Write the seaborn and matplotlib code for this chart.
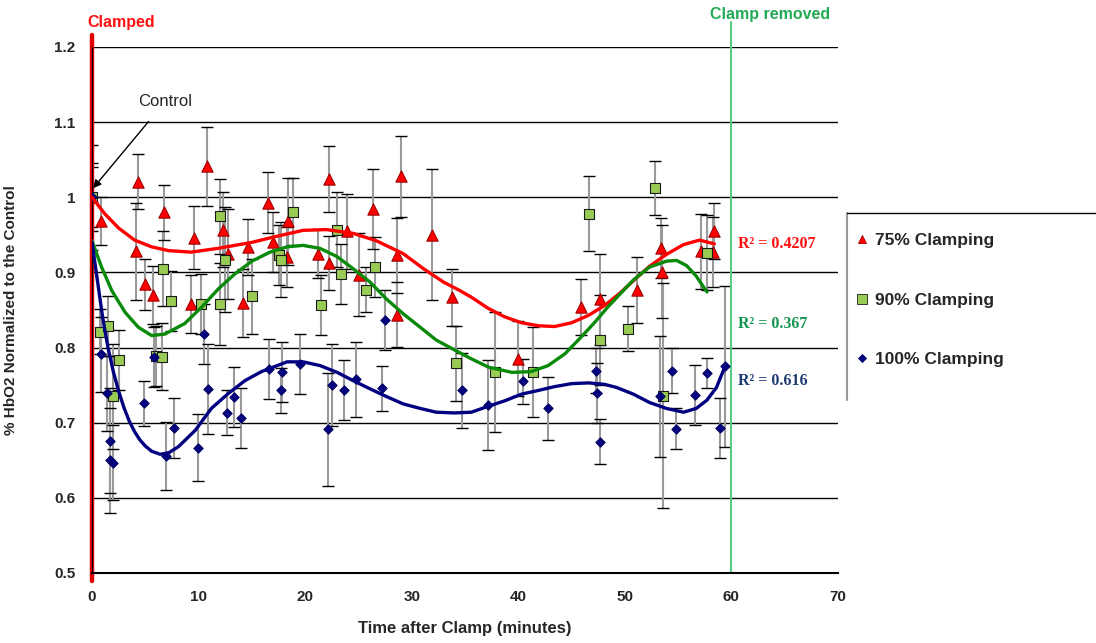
import matplotlib
matplotlib.use("Agg")
import matplotlib.pyplot as plt
from matplotlib.lines import Line2D
import numpy as np
import pandas as pd
import seaborn as sns

# ---------------- data ----------------
series_names = ["75% Clamping", "90% Clamping", "100% Clamping"]

red_x = [0.0, 0.8, 4.3, 4.1, 5.0, 5.7, 6.8, 9.3, 9.6, 10.8, 12.3, 12.8, 14.2, 14.6, 16.5, 17.0,
         18.4, 18.3, 21.2, 22.2, 22.2, 23.9, 25.1, 26.4, 28.6, 28.6, 29.0, 31.9, 33.8, 40.0,
         45.9, 47.7, 51.1, 53.4, 53.5, 57.1, 58.4, 58.3]
red_y = [1.000, 0.969, 1.021, 0.928, 0.884, 0.870, 0.980, 0.858, 0.946, 1.041, 0.957, 0.924, 0.859,
         0.934, 0.993, 0.940, 0.968, 0.920, 0.925, 1.024, 0.912, 0.955, 0.897, 0.984, 0.844, 0.923,
         1.028, 0.950, 0.867, 0.785, 0.854, 0.864, 0.877, 0.932, 0.901, 0.928, 0.955, 0.927]
red_e = [0.040, 0.032, 0.036, 0.065, 0.034, 0.039, 0.037, 0.039, 0.042, 0.052, 0.050, 0.060, 0.045,
         0.037, 0.040, 0.040, 0.058, 0.040, 0.033, 0.044, 0.036, 0.050, 0.055, 0.053, 0.043, 0.050,
         0.054, 0.087, 0.038, 0.050, 0.037, 0.060, 0.044, 0.040, 0.062, 0.050, 0.037, 0.047]

green_x = [0.0, 0.72, 1.5, 2.0, 2.56, 5.97, 6.6, 6.7, 7.4, 10.2, 12.0, 12.0, 12.5, 15.0, 17.5, 17.7,
           18.9, 21.5, 23.0, 23.4, 25.7, 26.6, 34.2, 37.8, 41.4, 46.6, 47.7, 50.3, 52.8, 53.6, 57.7]
green_y = [1.000, 0.821, 0.829, 0.735, 0.783, 0.789, 0.788, 0.905, 0.862, 0.858, 0.858, 0.975, 0.917,
           0.868, 0.923, 0.917, 0.981, 0.857, 0.957, 0.898, 0.877, 0.907, 0.779, 0.767, 0.767, 0.978,
           0.810, 0.825, 1.012, 0.736, 0.926]
green_e = [0.045, 0.030, 0.040, 0.070, 0.040, 0.040, 0.045, 0.050, 0.040, 0.040, 0.055, 0.050, 0.070,
           0.050, 0.040, 0.050, 0.045, 0.040, 0.050, 0.040, 0.030, 0.040, 0.050, 0.080, 0.060, 0.050,
           0.060, 0.030, 0.036, 0.150, 0.050]

blue_x = [0.0, 0.8, 1.4, 1.7, 1.7, 2.0, 4.9, 5.8, 6.9, 7.7, 9.9, 10.5, 10.9, 12.7, 13.3, 14.0, 16.6,
          17.85, 17.7, 19.5, 22.1, 22.5, 23.6, 24.8, 27.2, 27.5, 34.7, 37.2, 40.4, 42.8, 47.3, 47.4,
          47.7, 53.3, 54.4, 54.8, 56.6, 57.7, 58.9, 59.4]
blue_y = [1.000, 0.791, 0.739, 0.676, 0.650, 0.647, 0.726, 0.787, 0.656, 0.693, 0.667, 0.818, 0.745,
          0.713, 0.734, 0.706, 0.771, 0.767, 0.743, 0.778, 0.691, 0.750, 0.744, 0.758, 0.746, 0.837,
          0.743, 0.724, 0.755, 0.719, 0.769, 0.739, 0.675, 0.735, 0.769, 0.692, 0.737, 0.766, 0.693,
          0.775]
blue_e = [0.070, 0.050, 0.050, 0.070, 0.070, 0.050, 0.030, 0.040, 0.045, 0.040, 0.045, 0.040, 0.060,
          0.030, 0.040, 0.040, 0.040, 0.040, 0.030, 0.040, 0.075, 0.055, 0.040, 0.050, 0.030, 0.040,
          0.050, 0.060, 0.030, 0.042, 0.030, 0.040, 0.030, 0.080, 0.030, 0.027, 0.040, 0.020, 0.040,
          0.107]

# trend lines
red_tx = [0.0, 1.2, 2.5, 4.0, 5.6, 7.2, 9.3, 11.8, 13.4, 15.0, 17.0, 19.8, 22.0, 24.5, 26.7, 29.2,
          31.1, 33.0, 34.5, 35.6, 37.2, 38.7, 40.3, 41.9, 43.4, 45.0, 46.6, 48.1, 49.5, 50.8, 52.3,
          53.9, 55.5, 57.0, 58.4]
red_ty = [1.000, 0.978, 0.959, 0.943, 0.934, 0.929, 0.927, 0.932, 0.936, 0.940, 0.947, 0.956, 0.957,
          0.952, 0.942, 0.925, 0.905, 0.887, 0.876, 0.867, 0.852, 0.841, 0.833, 0.829, 0.828, 0.833,
          0.843, 0.856, 0.872, 0.889, 0.908, 0.924, 0.937, 0.943, 0.938]

green_tx = [0.0, 0.9, 1.85, 3.1, 4.35, 5.6, 6.85, 8.7, 10.3, 11.85, 13.4, 15.0, 16.7, 18.3, 19.8,
            21.4, 23.0, 24.5, 26.1, 27.6, 29.2, 30.8, 32.3, 34.0, 35.6, 37.2, 39.4, 41.2, 42.8, 44.4,
            45.9, 47.2, 48.4, 49.6, 50.8, 52.3, 53.9, 54.85, 55.8, 56.7, 57.7]
green_ty = [0.942, 0.907, 0.876, 0.847, 0.827, 0.816, 0.818, 0.832, 0.854, 0.878, 0.898, 0.915,
            0.927, 0.934, 0.936, 0.932, 0.921, 0.905, 0.887, 0.865, 0.845, 0.827, 0.810, 0.797,
            0.785, 0.774, 0.767, 0.768, 0.776, 0.792, 0.814, 0.834, 0.854, 0.872, 0.890, 0.907,
            0.915, 0.916, 0.909, 0.895, 0.874]

blue_tx = [0.0, 0.5, 1.0, 1.5, 2.0, 2.5, 3.0, 3.5, 4.0, 4.5, 5.0, 5.6, 6.4, 7.2, 8.1, 9.7, 11.2,
           12.8, 14.35, 15.9, 17.2, 18.3, 19.8, 21.4, 23.0, 24.5, 26.1, 27.6, 29.2, 30.8, 32.3,
           34.0, 35.6, 37.2, 38.7, 40.3, 41.9, 43.4, 45.0, 46.6, 48.1, 49.2, 50.8, 52.3, 53.9,
           55.5, 56.7, 57.7, 58.6, 59.4]
blue_ty = [0.940, 0.890, 0.840, 0.800, 0.768, 0.742, 0.720, 0.702, 0.688, 0.677, 0.669, 0.662,
           0.658, 0.660, 0.668, 0.690, 0.719, 0.739, 0.756, 0.768, 0.775, 0.781, 0.781, 0.776,
           0.767, 0.756, 0.745, 0.735, 0.725, 0.719, 0.714, 0.713, 0.714, 0.722, 0.729, 0.738,
           0.743, 0.748, 0.752, 0.753, 0.751, 0.747, 0.738, 0.727, 0.719, 0.714, 0.719, 0.730,
           0.747, 0.775]

r2_labels = ["R\u00b2 = 0.4207", "R\u00b2 = 0.367", "R\u00b2 = 0.616"]
x_ticks = [0, 10, 20, 30, 40, 50, 60, 70]
y_ticks = [0.5, 0.6, 0.7, 0.8, 0.9, 1.0, 1.1, 1.2]
y_ticklabels = ["0.5", "0.6", "0.7", "0.8", "0.9", "1", "1.1", "1.2"]

# ---------------- styling ----------------
sns.set_style("white")
plt.rcParams["font.family"] = ["Liberation Sans", "DejaVu Sans"]

W, H = 1096, 643
fig = plt.figure(figsize=(W / 100, H / 100), dpi=100)
ax = fig.add_axes([92 / W, 1 - 573 / H, (838 - 92) / W, (573 - 47) / H])

pts = pd.concat([
    pd.DataFrame({"x": red_x, "y": red_y, "e": red_e, "s": series_names[0]}),
    pd.DataFrame({"x": green_x, "y": green_y, "e": green_e, "s": series_names[1]}),
    pd.DataFrame({"x": blue_x, "y": blue_y, "e": blue_e, "s": series_names[2]}),
], ignore_index=True)
trend = pd.concat([
    pd.DataFrame({"x": red_tx, "y": red_ty, "s": series_names[0]}),
    pd.DataFrame({"x": green_tx, "y": green_ty, "s": series_names[1]}),
    pd.DataFrame({"x": blue_tx, "y": blue_ty, "s": series_names[2]}),
], ignore_index=True)

marker_face = {series_names[0]: "#FF0000", series_names[1]: "#99CC55", series_names[2]: "#000080"}
marker_edge = {series_names[0]: "#A00000", series_names[1]: "#1a1a1a", series_names[2]: "#000060"}
marker_shape = {series_names[0]: "^", series_names[1]: "s", series_names[2]: "D"}
marker_size = {series_names[0]: 66, series_names[1]: 60, series_names[2]: 22}
line_col = {series_names[0]: "#FF0000", series_names[1]: "#0A8A0A", series_names[2]: "#000080"}

# error bars: grey stems with black caps
ax.errorbar(pts["x"], pts["y"], yerr=pts["e"], fmt="none", ecolor="#9a9a9a",
            elinewidth=1.5, capsize=0, zorder=2)
ax.errorbar(pts["x"], pts["y"], yerr=pts["e"], fmt="none", ecolor="black",
            elinewidth=0, capsize=4, capthick=1.0, zorder=2)

# clamp markers
ax.plot([0, 0], [0.49, 1.216], color="#E00000", lw=3.2, clip_on=False, zorder=2.5)
ax.plot([60, 60], [0.5, 1.233], color="#55CC88", lw=1.5, clip_on=False, zorder=2.5)

for name in series_names:
    d = pts[pts["s"] == name]
    sns.scatterplot(data=d, x="x", y="y", marker=marker_shape[name], s=marker_size[name],
                    color=marker_face[name], edgecolor=marker_edge[name], linewidth=0.8,
                    ax=ax, zorder=3, legend=False)
    t = trend[trend["s"] == name]
    sns.lineplot(data=t, x="x", y="y", color=line_col[name], lw=2.4, ax=ax,
                 sort=False, zorder=4, legend=False)

ax.set_xlim(0, 70)
ax.set_ylim(0.5, 1.2)
ax.set_xticks(x_ticks)
ax.set_xticklabels([str(v) for v in x_ticks], fontsize=11, fontweight="bold")
ax.set_yticks(y_ticks)
ax.set_yticklabels(y_ticklabels, fontsize=11, fontweight="bold")
ax.tick_params(axis="both", direction="out", length=5, width=1, color="black", pad=7)
ax.yaxis.grid(True, color="black", lw=1.0)
ax.xaxis.grid(False)
ax.set_axisbelow(True)
for sp in ["top", "right"]:
    ax.spines[sp].set_visible(False)
ax.spines["bottom"].set_color("black")
ax.spines["bottom"].set_linewidth(1.5)
ax.spines["left"].set_color("black")

ax.set_xlabel("Time after Clamp (minutes)", fontsize=12, fontweight="bold", va="center")
ax.set_ylabel("% HbO2 Normalized to the Control", fontsize=11, fontweight="bold")
ax.xaxis.set_label_coords(0.5, -(628 - 573) / 526)
ax.yaxis.set_label_coords(-(92 - 18) / 746, 0.5)

# annotations
fig.text(87 / W, 1 - 22 / H, "Clamped", color="#FF1010", fontsize=11.5, fontweight="bold",
         va="center", ha="left")
fig.text(770 / W, 1 - 14 / H, "Clamp removed", color="#22AA55", fontsize=11.5, fontweight="bold",
         va="center", ha="center")
ax.annotate("Control", xy=(0.1, 1.012), xytext=(6.9, 1.128), fontsize=12,
            ha="center", va="center",
            arrowprops=dict(arrowstyle="-|>", color="black", lw=1.0, mutation_scale=12,
                            shrinkA=9, shrinkB=0))

r2_cols = ["#FF1010", "#139550", "#1F3A70"]
r2_y = [244, 324, 381]
for lab, c, yy in zip(r2_labels, r2_cols, r2_y):
    fig.text(738 / W, 1 - yy / H, lab, color=c, fontsize=11.5, fontweight="bold",
             family="Liberation Serif", va="center", ha="left")

# legend
handles = [Line2D([], [], ls="none", marker=marker_shape[n], markersize=ms,
                  markerfacecolor=marker_face[n], markeredgecolor=marker_edge[n],
                  markeredgewidth=0.6) for n, ms in zip(series_names, [6, 7, 4.5])]
leg = fig.legend(handles, series_names, loc="upper left",
                 bbox_to_anchor=(855 / W, 1 - 233 / H), frameon=False,
                 prop={"size": 12.5, "weight": "bold"}, handlelength=0.8, handletextpad=0.35,
                 labelspacing=2.55, borderpad=0, borderaxespad=0)
fig.add_artist(Line2D([847 / W, 847 / W], [1 - 213 / H, 1 - 400 / H], color="#999999", lw=1.5))
fig.add_artist(Line2D([847 / W, 1.0], [1 - 213 / H, 1 - 213 / H], color="black", lw=1.0))

fig.savefig("out.png", dpi=100)
